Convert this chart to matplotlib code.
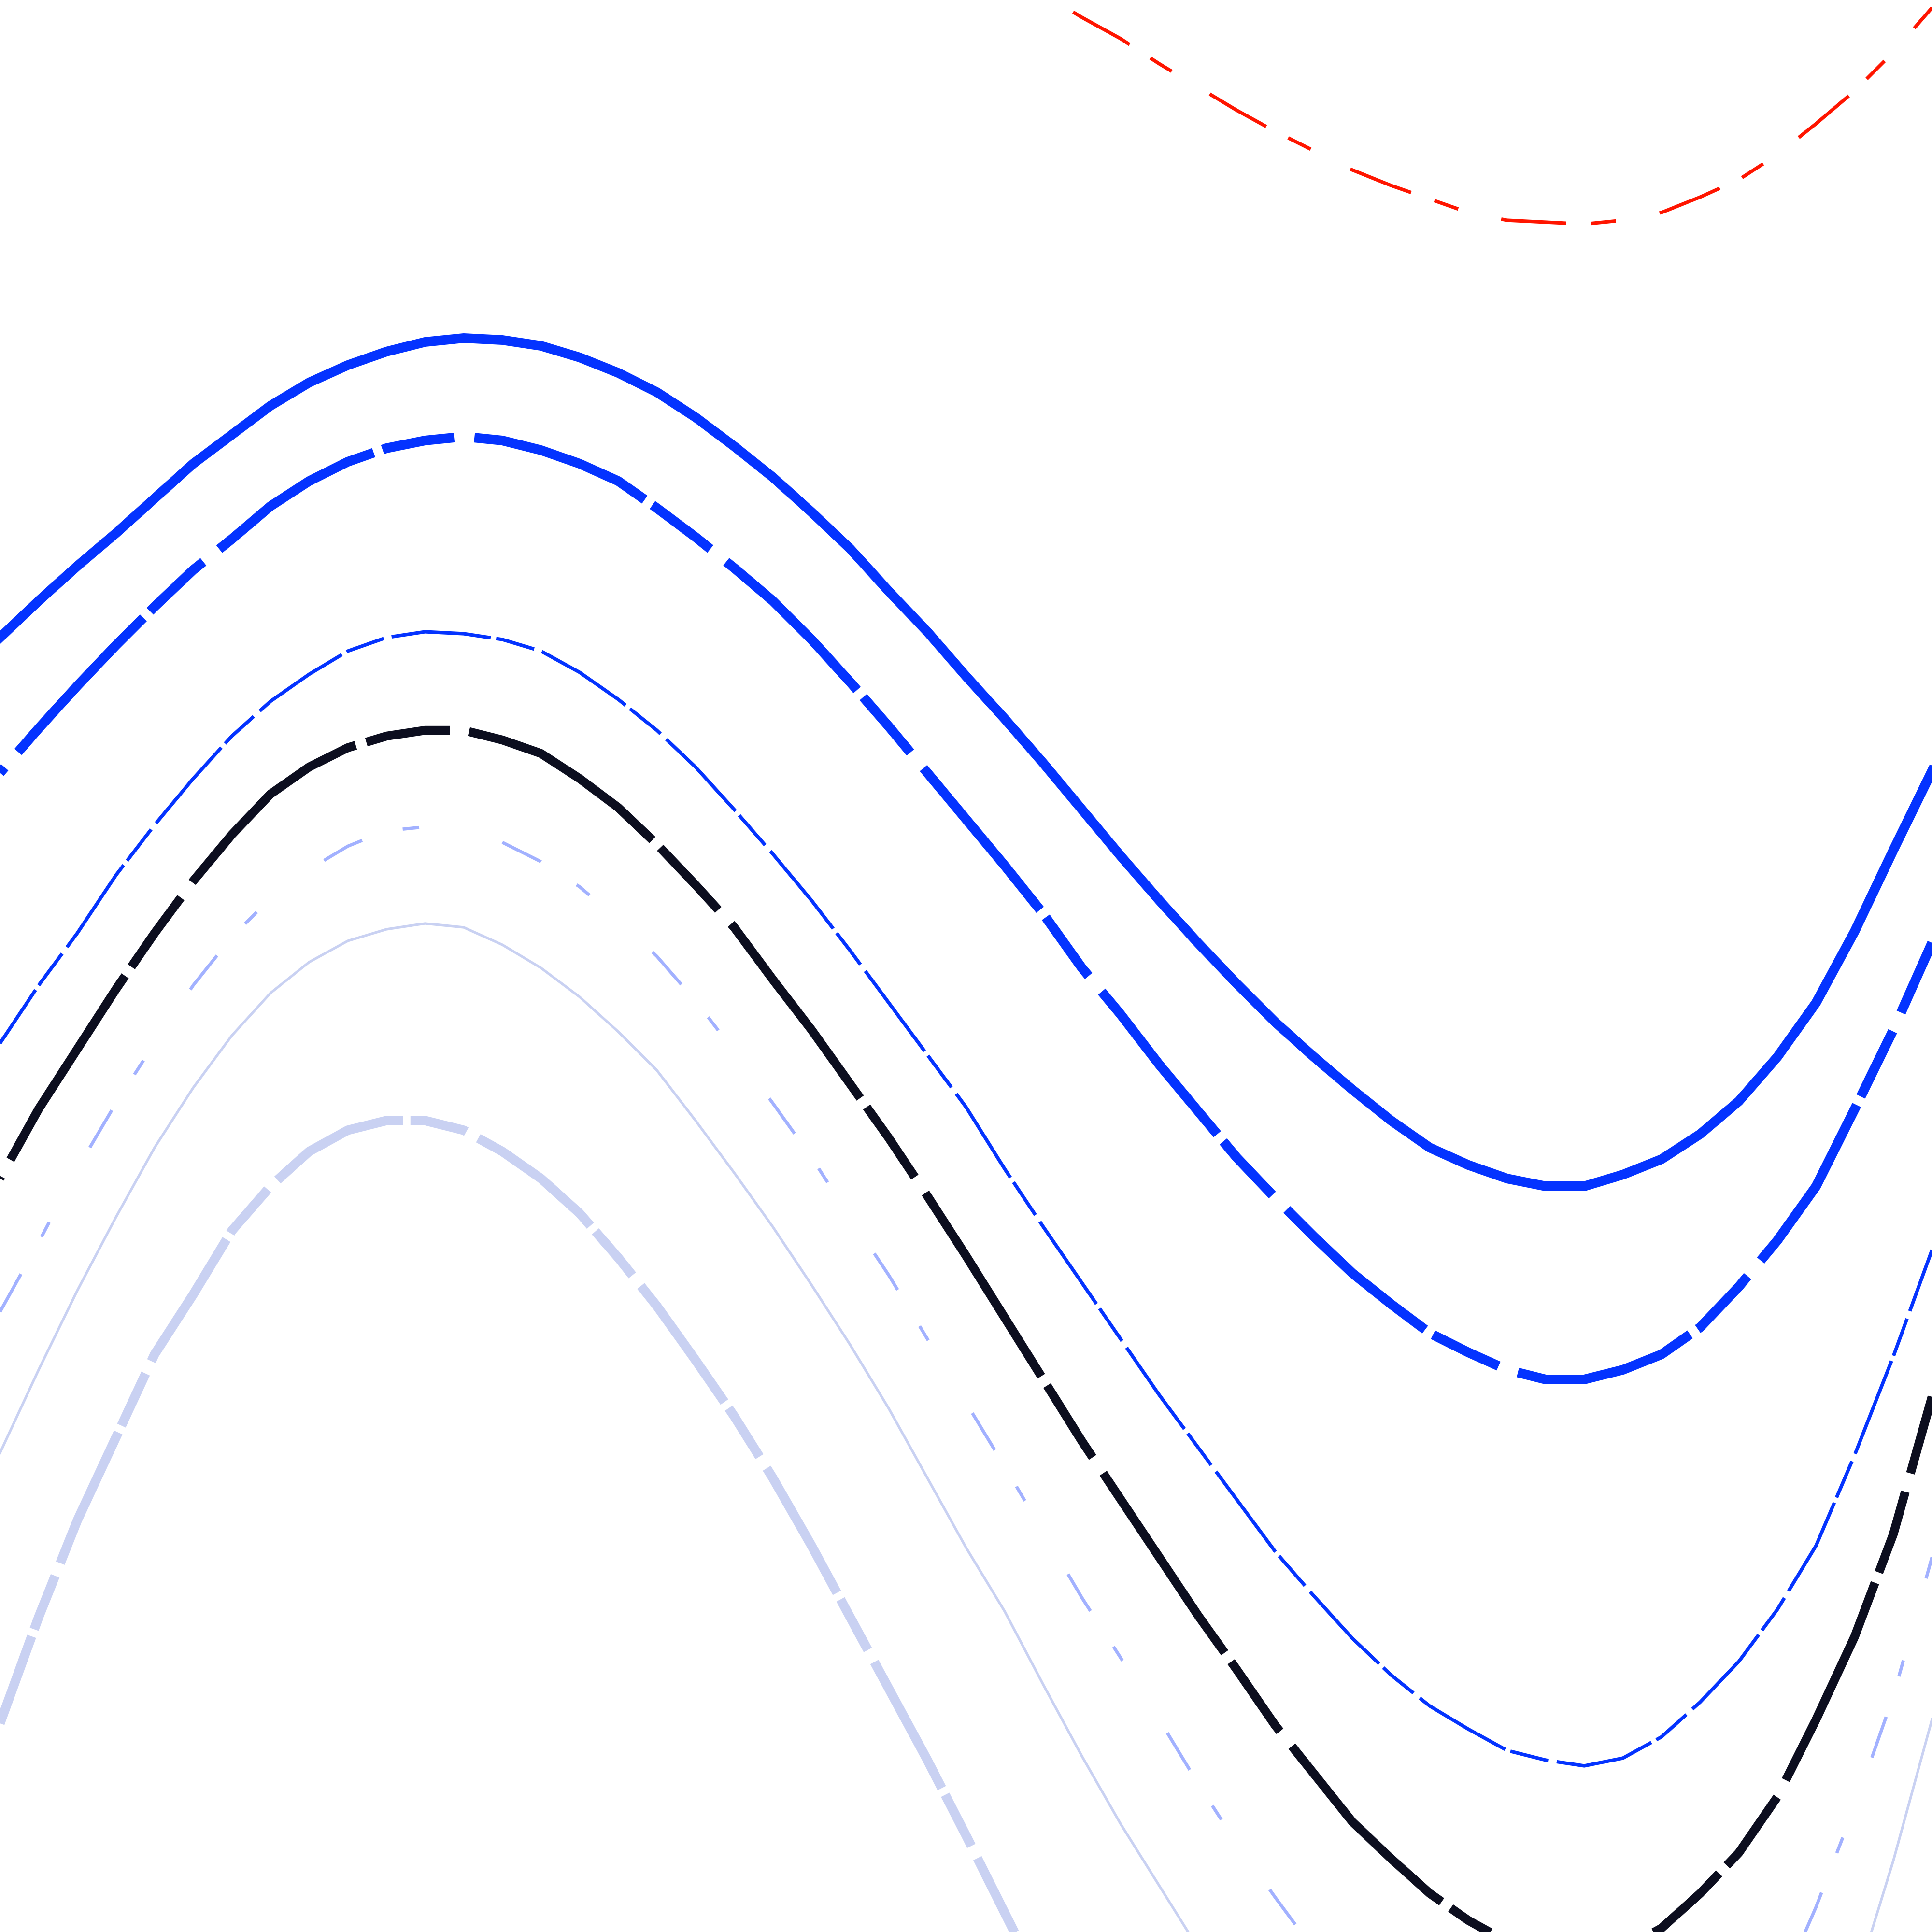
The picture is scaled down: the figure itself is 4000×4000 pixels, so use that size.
import matplotlib
matplotlib.use("Agg")
import matplotlib.pyplot as plt

plt.rcParams['lines.scale_dashes'] = False

# x positions (percent of plot width)
x = [0, 2, 4, 6, 8, 10, 12, 14, 16, 18, 20, 22, 24, 26, 28, 30, 32, 34, 36, 38,
     40, 42, 44, 46, 48, 50, 52, 54, 56, 58, 60, 62, 64, 66, 68, 70, 72, 74, 76, 78,
     80, 82, 84, 86, 88, 90, 92, 94, 96, 98, 100]

# y values (percent of plot height; values outside 0-100 run off the plot)
red_dashed = [102.4, 103.4, 104.5, 105.4, 106.3, 107.1, 107.9, 108.5, 109.1, 109.6,
              109.9, 110.1, 110.2, 110.2, 110.1, 109.9, 109.6, 109.2, 108.7, 108.0,
              107.3, 106.5, 105.6, 104.7, 103.6, 102.6, 101.4, 100.3, 99.1, 98.0,
              96.7, 95.5, 94.3, 93.2, 92.2, 91.2, 90.4, 89.7, 89.0, 88.6,
              88.5, 88.4, 88.6, 89.0, 89.8, 90.7, 92.0, 93.6, 95.3, 97.3, 99.6]
blue_solid = [67.0, 68.9, 70.7, 72.4, 74.2, 76.0, 77.5, 79.0, 80.2, 81.1,
              81.8, 82.3, 82.5, 82.4, 82.1, 81.5, 80.7, 79.7, 78.4, 76.9,
              75.3, 73.5, 71.6, 69.4, 67.3, 65.0, 62.8, 60.5, 58.1, 55.7,
              53.4, 51.2, 49.1, 47.1, 45.3, 43.6, 42.0, 40.6, 39.7, 39.0,
              38.6, 38.6, 39.2, 40.0, 41.3, 43.0, 45.3, 48.1, 51.8, 56.0, 60.1]
blue_thick_dashed = [60.0, 62.3, 64.5, 66.6, 68.6, 70.5, 72.1, 73.8, 75.1, 76.1,
                     76.8, 77.2, 77.4, 77.2, 76.7, 76.0, 75.1, 73.7, 72.2, 70.6,
                     68.9, 66.9, 64.7, 62.4, 60.0, 57.6, 55.2, 52.7, 49.9, 47.5,
                     44.9, 42.5, 40.1, 38.0, 36.0, 34.1, 32.5, 31.0, 30.0, 29.1,
                     28.6, 28.6, 29.1, 29.9, 31.3, 33.4, 35.8, 38.6, 42.6, 46.7, 51.2]
blue_thin_dashed = [46.0, 49.0, 51.7, 54.7, 57.3, 59.7, 61.9, 63.7, 65.1, 66.3,
                    67.0, 67.3, 67.2, 66.9, 66.3, 65.2, 63.8, 62.2, 60.3, 58.1,
                    55.8, 53.4, 50.8, 48.1, 45.4, 42.7, 39.5, 36.5, 33.6, 30.7,
                    27.8, 25.1, 22.4, 19.7, 17.4, 15.2, 13.3, 11.7, 10.5, 9.4,
                    8.9, 8.6, 9.0, 10.1, 11.9, 14.0, 16.7, 20.0, 24.7, 29.8, 35.3]
navy_dashed = [39.0, 42.6, 45.7, 48.8, 51.7, 54.4, 56.8, 58.9, 60.3, 61.3,
               61.9, 62.2, 62.2, 61.7, 61.0, 59.7, 58.2, 56.3, 54.2, 52.0,
               49.3, 46.7, 43.9, 41.1, 38.1, 35.0, 31.8, 28.6, 25.4, 22.4,
               19.4, 16.4, 13.6, 10.7, 8.2, 5.7, 3.8, 2.0, 0.6, -0.5,
               -1.0, -1.2, -0.9, 0.2, 2.0, 4.1, 7.0, 11.0, 15.3, 20.6, 27.7]
periwinkle_dashed = [32.1, 35.7, 39.5, 42.9, 46.0, 49.0, 51.5, 53.5, 55.0, 56.2,
                     57.0, 57.2, 57.0, 56.4, 55.4, 54.1, 52.4, 50.5, 48.2, 45.6,
                     42.9, 40.1, 37.0, 34.0, 30.7, 27.4, 24.1, 20.7, 17.3, 14.2,
                     11.0, 7.7, 4.6, 1.8, -0.9, -3.3, -5.6, -7.5, -9.1, -10.3,
                     -11.1, -11.3, -10.9, -9.8, -8.3, -6.2, -3.3, 1.3, 6.5, 12.2, 19.4]
pale_solid = [24.8, 29.1, 33.2, 37.0, 40.6, 43.7, 46.4, 48.6, 50.2, 51.3,
              51.9, 52.2, 52.0, 51.1, 49.9, 48.4, 46.6, 44.6, 42.0, 39.3,
              36.5, 33.5, 30.4, 27.1, 23.5, 19.9, 16.6, 12.8, 9.1, 5.6,
              2.4, -0.8, -3.6, -6.4, -8.7, -11.0, -12.9, -14.4, -15.4, -16.3,
              -16.7, -16.9, -16.7, -16.0, -14.7, -12.8, -10.0, -6.8, -2.8, 3.7, 11.0]
pale_thick_dashed = [10.8, 16.3, 21.3, 25.6, 29.9, 33.0, 36.3, 38.6, 40.4, 41.5,
                     42.0, 42.0, 41.5, 40.4, 39.0, 37.2, 34.9, 32.4, 29.6, 26.7,
                     23.5, 20.0, 16.3, 12.6, 8.9, 5.0, 1.0, -3.0, -6.9, -10.7,
                     -14.2, -17.4, -20.2, -22.8, -24.9, -26.8, -28.3, -29.5, -30.4, -31.1,
                     -31.4, -31.4, -30.9, -29.9, -28.3, -26.2, -23.2, -19.8, -15.6, -10.7, -5.2]

fig = plt.figure(figsize=(10, 10), dpi=400)
ax = fig.add_axes([0, 0, 1, 1])
ax.set_xlim(0, 100)
ax.set_ylim(0, 100)
ax.axis('off')

BLUE = '#0433ff'
NAVY = '#0c0e1f'
PERI = '#a2b1ff'
PALE = '#c9d1f2'
RED = '#ff1500'

ax.plot(x, pale_thick_dashed, color=PALE, lw=3.5,
        linestyle=(18.8, (53.3, 2.8, 21.4, 5.1)))
ax.plot(x, pale_solid, color=PALE, lw=0.95, linestyle='-')
# periwinkle dashed: two visible stretches
ax.plot(x[:35], periwinkle_dashed[:35], color=PERI, lw=1.2,
        linestyle=(0.0, (16.1, 15.8, 6.2, 31.7)))
ax.plot(x[46:], periwinkle_dashed[46:], color=PERI, lw=1.2,
        linestyle=(0.0, (16.1, 15.8, 6.2, 31.7)))
# navy dashed: two visible stretches
ax.plot(x[:41], navy_dashed[:41], color=NAVY, lw=3.3,
        linestyle=(115.7, (80.8, 4.1, 31.7, 7.1)))
ax.plot(x[41:], navy_dashed[41:], color=NAVY, lw=3.3,
        linestyle=(47.8, (80.8, 4.1, 31.7, 7.1)))
ax.plot(x, blue_thin_dashed, color=BLUE, lw=1.3,
        linestyle=(13.3, (37.2, 2.07, 14.7, 3.0)))
ax.plot(x, blue_thick_dashed, color=BLUE, lw=3.6,
        linestyle=(96.3, (68.4, 3.5, 27.1, 7.6)))
ax.plot(x, blue_solid, color=BLUE, lw=3.6, linestyle='-')
ax.plot(x, red_dashed, color=RED, lw=1.3,
        linestyle=(50.3, (24.3, 9.2, 9.4, 16.5)))

fig.savefig('out.png', dpi=400, facecolor='white')
